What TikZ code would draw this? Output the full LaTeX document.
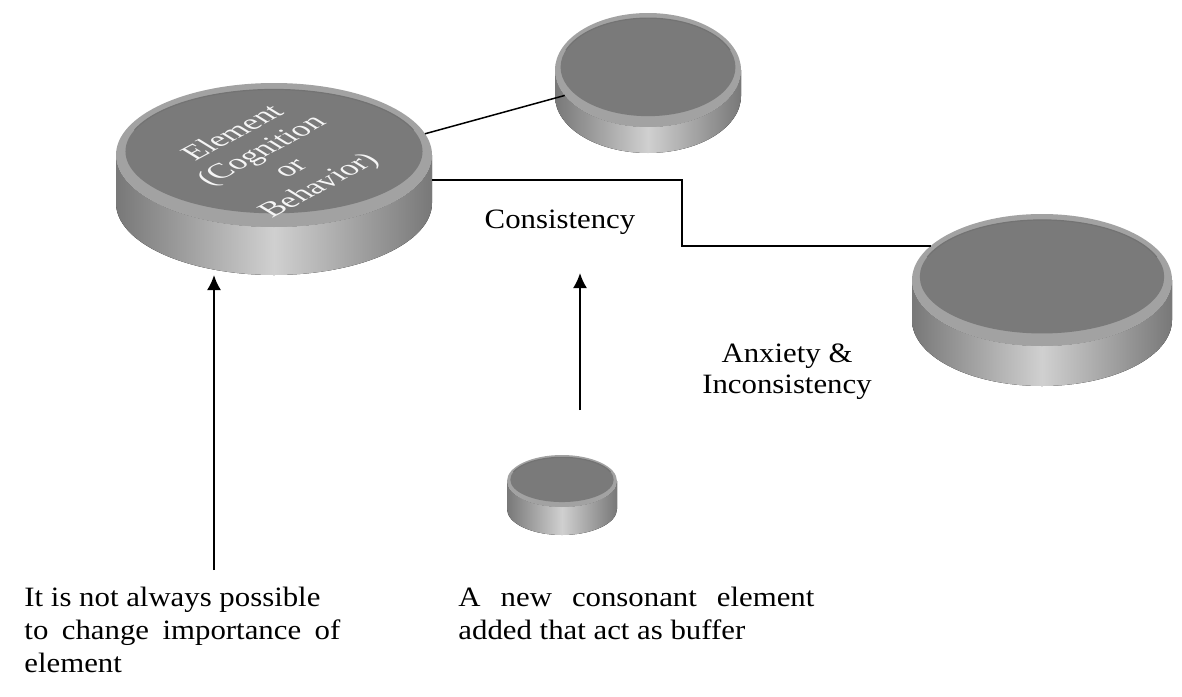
\documentclass[tikz,border=0pt]{standalone}
\usepackage{fontspec}
\setmainfont{Liberation Serif}
\usepackage{tikz}
\usetikzlibrary{shapes.geometric, arrows.meta, positioning}

\definecolor{coinface}{RGB}{122,122,122}
\definecolor{coinrim}{RGB}{162,162,162}
\definecolor{coinside}{RGB}{120,120,120}
\definecolor{coinshine}{RGB}{208,208,208}

% disc: name, centre x, centre y, x radius, y radius, thickness
\newcommand{\coin}[6]{%
    \fill[left color=coinside, right color=coinside, middle color=coinshine]
        (#2-#4,#3) -- (#2-#4,#3+#6)
        arc[start angle=180, end angle=0, x radius=#4, y radius=#5]
        -- (#2+#4,#3)
        arc[start angle=0, end angle=180, x radius=#4, y radius=#5] -- cycle;
    \node[coin, minimum width=#4pt, minimum height=#5pt] (#1) at (#2,#3) {};
    \fill[coinface] (#2,#3-0.05*#5) ellipse[x radius=0.94*#4, y radius=0.86*#5];
    \draw[coinlip] (#2,#3-0.05*#5) ++(200:0.94*#4 and 0.86*#5)
        arc[start angle=200, end angle=340, x radius=0.94*#4, y radius=0.86*#5];
    \coordinate (#1-base) at (#2,#3+#6+#5);
}

\begin{document}
\begin{tikzpicture}[
    x=0.5pt, y=-0.5pt,
    coin/.style={ellipse, inner sep=0pt, outer sep=0pt, fill=coinrim},
    coinlip/.style={draw=black!55, line width=0.6pt},
    coin text/.style={text=white!92!gray, font=\fontsize{18.5}{21}\selectfont, align=center, yscale=0.57, rotate=43},
    note/.style={font=\fontsize{14}{15.5}\selectfont, inner sep=0pt, xscale=1.1},
    wide note/.style={note, font=\fontsize{14}{16.5}\selectfont, align=left, anchor=north west},
    link/.style={line width=0.75pt},
    arrow/.style={-{Latex[length=7.5pt, width=7pt]}, line width=1pt}
]
    \useasboundingbox (0,0) rectangle (1182,696);

    % Discs
    \coin{elem}{274}{155}{158}{72}{48}
    \coin{peer}{648}{70}{93}{57}{26}
    \coin{distant}{1042}{280}{130}{66}{40}
    \coin{buffer}{562}{481}{55}{26}{28}

    \node[coin text] (elemtext) at (277,160) {Element\\(Cognition\\or\\Behavior)};

    % Labels
    \node[note, anchor=base] (consnote) at (560,228) {Consistency};
    \node[note, align=center, anchor=north] (anxnote) at (787,343) {Anxiety \&\\Inconsistency};
    \node[wide note] (impnote) at (24,587) {
        It is not always possible\\
        \makebox[143.6pt][s]{to change importance of}\\
        element};
    \node[wide note] (bufnote) at (458,587) {
        \makebox[161.8pt][s]{A new consonant element}\\
        added that act as buffer};

    % Connectors
    \draw[link] (elem.8) -- (peer.197);
    \draw[link] ([yshift=-12.5pt]elem.east) -- (682,180) |- (distant.163);

    % Arrows
    \coordinate (tailA) at (214,570);
    \coordinate (tailB) at (580,410);
    \coordinate (headB) at (580,273);
    \draw[arrow] (tailA) -- (tailA |- elem-base);
    \draw[arrow] (tailB) -- (headB);
\end{tikzpicture}
\end{document}
